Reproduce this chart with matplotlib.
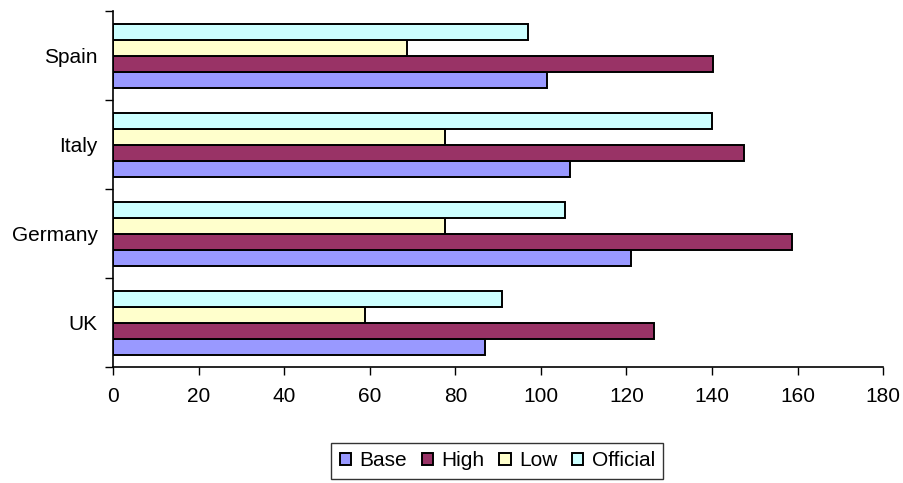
import matplotlib.pyplot as plt
import numpy as np

plt.rcParams['font.family'] = ['Liberation Sans', 'DejaVu Sans']

countries = ['UK', 'Germany', 'Italy', 'Spain']
series = ['Base', 'High', 'Low', 'Official']
base = [87, 121, 106.7, 101.5]
high = [126.4, 158.6, 147.4, 140.3]
low = [59, 77.7, 77.7, 68.8]
official = [90.8, 105.7, 139.9, 96.9]
colors = ['#9999FF', '#993366', '#FFFFCC', '#CCFFFF']

fig = plt.figure(figsize=(9.04, 4.83), dpi=100)
ax = fig.add_axes([0.125, 0.240, 0.852, 0.737])

y = np.arange(len(countries))
h = 0.18
for i, (name, vals) in enumerate(zip(series, [base, high, low, official])):
    ax.barh(y + (i - 1.5) * h, vals, height=h, color=colors[i],
            edgecolor='black', linewidth=1.4, label=name)

ax.set_xlim(0, 180)
ax.set_ylim(-0.5, len(countries) - 0.5)
ax.set_xticks(np.arange(0, 181, 20))
ax.set_yticks(y)
ax.set_yticklabels(countries)
ax.set_yticks(np.arange(-0.5, len(countries), 1), minor=True)
ax.tick_params(axis='y', which='major', length=0, pad=11, labelsize=15)
ax.tick_params(axis='y', which='minor', length=6, direction='out', width=1)
ax.tick_params(axis='x', length=6, direction='out', width=1, labelsize=15, pad=8)
for s in ['top', 'right']:
    ax.spines[s].set_visible(False)
for s in ['left', 'bottom']:
    ax.spines[s].set_color('black')
    ax.spines[s].set_linewidth(1.2)

leg = fig.legend(loc='center', bbox_to_anchor=(0.55, 0.046), ncol=4,
                 frameon=True, fancybox=False, edgecolor='black',
                 fontsize=15, handlelength=0.55, handleheight=0.55,
                 handletextpad=0.4, columnspacing=0.7, borderpad=0.4)
leg.get_frame().set_linewidth(1.0)

fig.savefig('out.png', dpi=100)
